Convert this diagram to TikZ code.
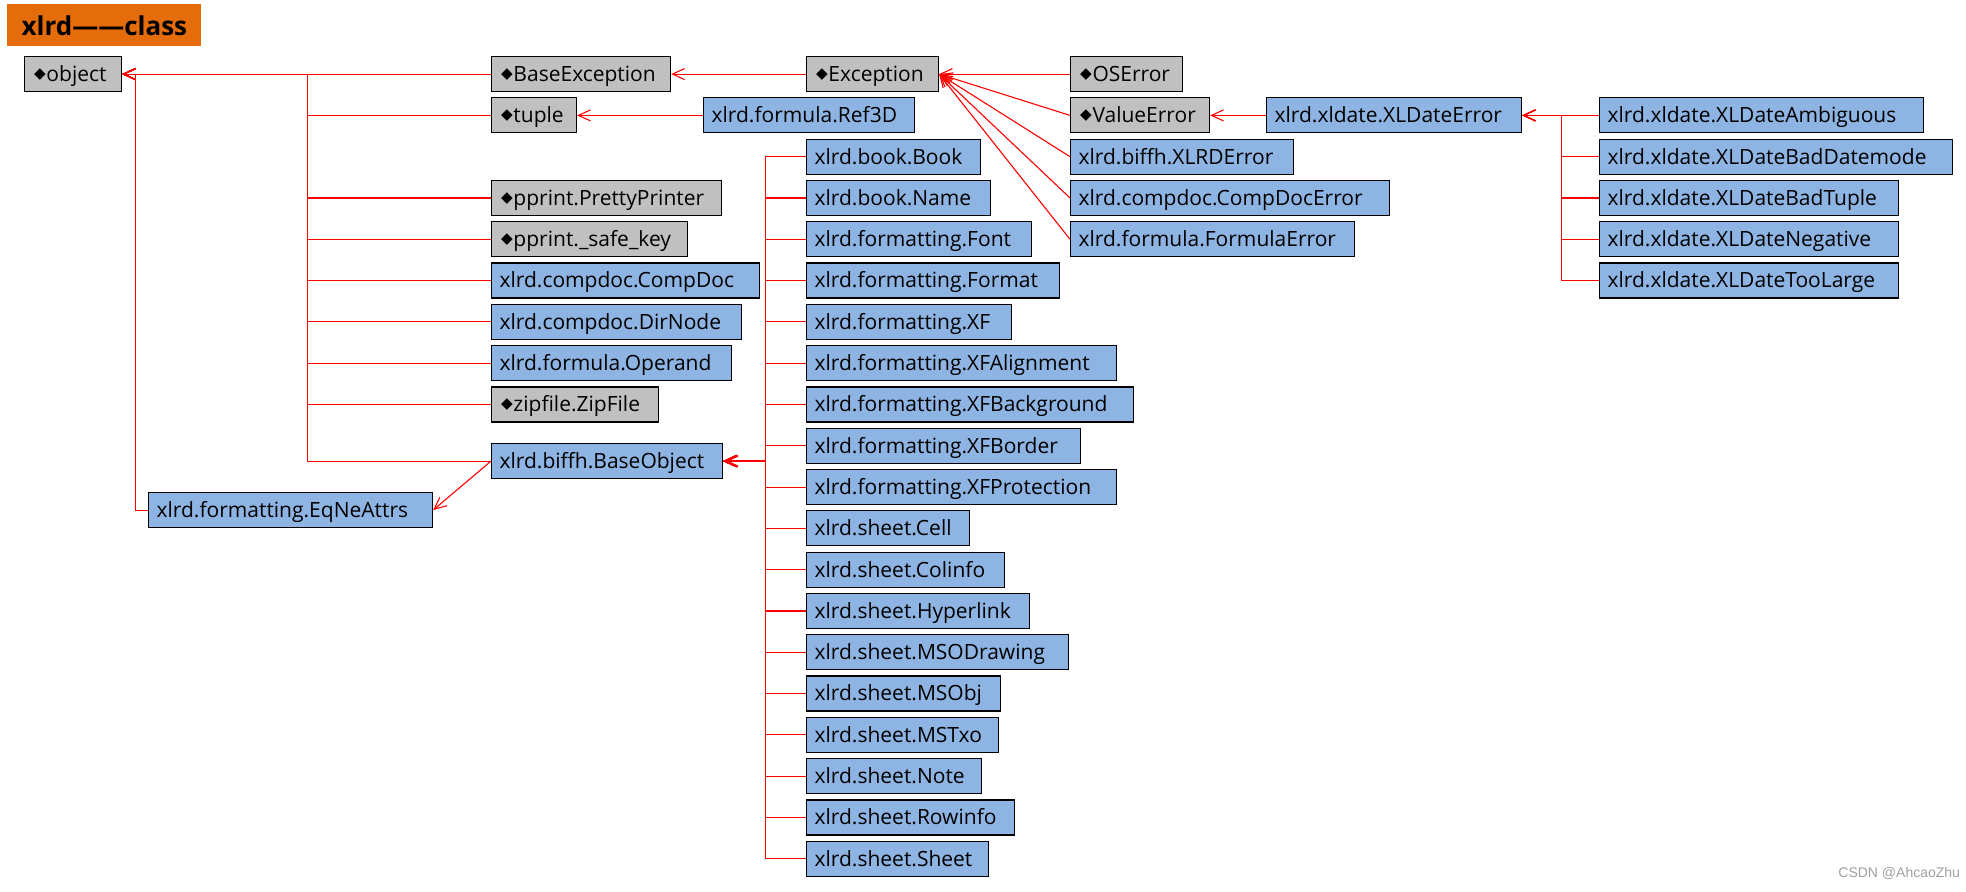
\documentclass[tikz,border=0pt]{standalone}
\usepackage{fontspec}
\setmainfont{Open Sans}
\newfontfamily\symfont{DejaVu Sans}
\newfontfamily\wmfont{Liberation Sans}
\usetikzlibrary{arrows.meta}
\definecolor{boxblue}{RGB}{141,180,226}
\definecolor{boxgray}{RGB}{192,192,192}
\definecolor{titleorange}{RGB}{228,108,10}
\definecolor{wmgray}{RGB}{160,160,160}
\newcommand\dia{\hspace{0.8pt}\raisebox{1.6pt}{\symfont\fontsize{7.6}{7.6}\selectfont ◆}\hspace{0.3pt}}
\newcommand\klass[6]{%
  \pgfmathsetmacro\tw{(#5-16)*0.5}%
  \node[#2, anchor=north west] (#1) at (#3,#4) {\makebox[\tw pt][l]{#6}};}
\begin{document}
\begin{tikzpicture}[x=0.5pt,y=-0.5pt,
  cbox/.style={draw=black, line width=0.6pt, inner xsep=4pt, inner ysep=0pt,
    minimum height=17.5pt, text height=7.4pt, text depth=0pt,
    font=\fontsize{10.5}{12}\selectfont},
  bluebox/.style={cbox, fill=boxblue},
  graybox/.style={cbox, fill=boxgray},
  inh/.style={draw=red, line width=0.55pt, -{Straight Barb[length=6pt,width=5.5pt]}},
]
\useasboundingbox (0,0) rectangle (1966,892);

\node[fill=titleorange, anchor=north west, minimum width=97pt, minimum height=21pt,
  inner sep=0pt, text height=9.9pt, text depth=0pt,
  font=\bfseries\fontsize{13}{15}\selectfont] (title) at (7,4) {xlrd——class};

% left group
\klass{object}{graybox}{24}{56}{97}{\dia object}
\klass{baseexc}{graybox}{491}{56}{179}{\dia BaseException}
\klass{tuple}{graybox}{491}{97.3}{85}{\dia tuple}
\klass{pp}{graybox}{491}{179.9}{230}{\dia pprint.PrettyPrinter}
\klass{sk}{graybox}{491}{221.2}{196}{\dia pprint.\_safe\_key}
\klass{cd}{bluebox}{491}{262.5}{268}{xlrd.compdoc.CompDoc}
\klass{dn}{bluebox}{491}{303.8}{250}{xlrd.compdoc.DirNode}
\klass{op}{bluebox}{491}{345.1}{240}{xlrd.formula.Operand}
\klass{zf}{graybox}{491}{386.4}{167}{\dia zipfile.ZipFile}
\klass{bo}{bluebox}{491}{443}{231}{xlrd.biffh.BaseObject}
\klass{eq}{bluebox}{148}{492}{284}{xlrd.formatting.EqNeAttrs}

% exception group
\klass{exc}{graybox}{806}{56}{132}{\dia Exception}
\klass{ref}{bluebox}{703}{97.3}{211}{xlrd.formula.Ref3D}
\klass{ose}{graybox}{1070}{56}{112}{\dia OSError}
\klass{ve}{graybox}{1070}{97.3}{139}{\dia ValueError}
\klass{xe}{bluebox}{1070}{138.6}{223}{xlrd.biffh.XLRDError}
\klass{cde}{bluebox}{1070}{179.9}{319}{xlrd.compdoc.CompDocError}
\klass{fe}{bluebox}{1070}{221.2}{284}{xlrd.formula.FormulaError}
\klass{xde}{bluebox}{1266}{97.3}{255}{xlrd.xldate.XLDateError}
\klass{amb}{bluebox}{1599}{97.3}{324}{xlrd.xldate.XLDateAmbiguous}
\klass{bdm}{bluebox}{1599}{138.6}{353}{xlrd.xldate.XLDateBadDatemode}
\klass{btu}{bluebox}{1599}{179.9}{299}{xlrd.xldate.XLDateBadTuple}
\klass{neg}{bluebox}{1599}{221.2}{299}{xlrd.xldate.XLDateNegative}
\klass{tl}{bluebox}{1599}{262.5}{299}{xlrd.xldate.XLDateTooLarge}

% trunk coordinates
\path (object.east) ++(185,0) coordinate (tA);
\path (object.east) ++(13,0) coordinate (tB);
\path (xde.east) ++(39,0) coordinate (tC);
\path (bo.east) ++(42,0) coordinate (tD);

% middle column
\foreach \w/\t [count=\i from 2] in {
  174/xlrd.book.Book, 184/xlrd.book.Name, 225/xlrd.formatting.Font,
  253/xlrd.formatting.Format, 205/xlrd.formatting.XF,
  310/xlrd.formatting.XFAlignment, 327/xlrd.formatting.XFBackground,
  274/xlrd.formatting.XFBorder, 310/xlrd.formatting.XFProtection,
  163/xlrd.sheet.Cell, 198/xlrd.sheet.Colinfo, 223/xlrd.sheet.Hyperlink,
  262/xlrd.sheet.MSODrawing, 194/xlrd.sheet.MSObj, 192/xlrd.sheet.MSTxo,
  175/xlrd.sheet.Note, 208/xlrd.sheet.Rowinfo, 182/xlrd.sheet.Sheet}{
  \klass{m\i}{bluebox}{806}{56+41.3*\i}{\w}{\t}
  \draw[inh] (m\i.west) -| (tD) -- (bo.east);
}
\draw[inh, line width=1.1pt] (tD) -- (bo.east);

% connectors
\foreach \n in {baseexc,tuple,pp,sk,cd,dn,op,zf,bo}
  \draw[inh] (\n.west) -| (tA) -- (object.east);
\draw[inh] (eq.west) -| (tB) -- (object.east);
\draw[inh] (bo.west) -- (eq.east);
\draw[inh] (exc.west) -- (baseexc.east);
\draw[inh] (ref.west) -- (tuple.east);
\foreach \n in {ose,ve,xe,cde,fe}
  \draw[inh] (\n.west) -- (exc.east);
\draw[inh] (xde.west) -- (ve.east);
\foreach \n in {amb,bdm,btu,neg,tl}
  \draw[inh] (\n.west) -| (tC) -- (xde.east);

\node[anchor=base west, inner sep=0pt, text=wmgray,
  font=\wmfont\fontsize{7}{8}\selectfont] (wm) at (1838,877) {CSDN @AhcaoZhu};
\end{tikzpicture}
\end{document}
